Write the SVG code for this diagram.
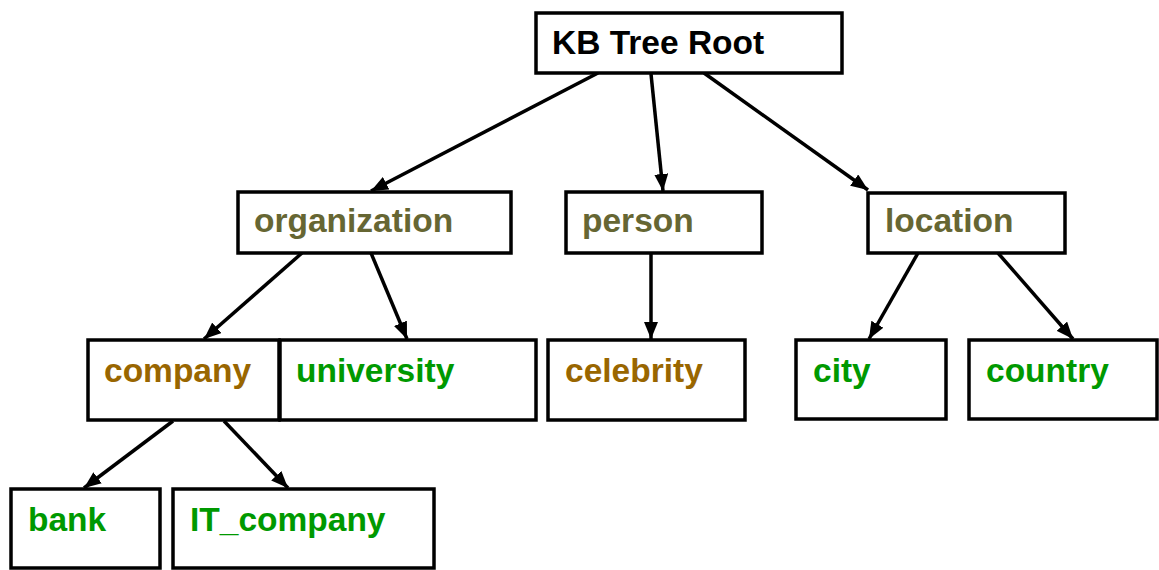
<svg xmlns="http://www.w3.org/2000/svg" width="1159" height="570" viewBox="0 0 1159 570">
<style>
.box{fill:#fff;stroke:#000;stroke-width:3.5}
.t{font-family:"Liberation Sans",Arial,sans-serif;font-weight:bold;font-size:33.5px}
.k{fill:#000}
.o{fill:#666633}
.b{fill:#996600}
.g{fill:#009900}
.e{stroke:#000;stroke-width:3.5;fill:none;marker-end:url(#ah)}
</style>
<defs>
<marker id="ah" markerUnits="userSpaceOnUse" markerWidth="18" markerHeight="14" refX="17" refY="7" orient="auto">
<path d="M0,0 L17,7 L0,14 z" fill="#000"/>
</marker>
</defs>
<rect width="1159" height="570" fill="#fff"/>
<g id="edges">
<line class="e" x1="598" y1="73" x2="371" y2="191"/>
<line class="e" x1="651" y1="74" x2="663" y2="191"/>
<line class="e" x1="704" y1="73" x2="868" y2="190"/>
<line class="e" x1="302" y1="253" x2="204" y2="339"/>
<line class="e" x1="371" y1="253" x2="407" y2="339"/>
<line class="e" x1="651" y1="253" x2="651" y2="339"/>
<line class="e" x1="918" y1="253" x2="869" y2="339"/>
<line class="e" x1="998" y1="253" x2="1073" y2="339"/>
<line class="e" x1="173" y1="421" x2="84" y2="488"/>
<line class="e" x1="224" y1="421" x2="288" y2="488"/>
</g>
<g id="root"><rect class="box" x="536" y="13" width="306" height="60"/><text class="t k" x="552" y="54">KB Tree Root</text></g>
<g id="organization"><rect class="box" x="238" y="192" width="273" height="61"/><text class="t o" x="254" y="232">organization</text></g>
<g id="person"><rect class="box" x="566" y="192" width="196" height="61"/><text class="t o" x="582" y="232">person</text></g>
<g id="location"><rect class="box" x="868" y="193" width="197" height="60"/><text class="t o" x="885" y="232">location</text></g>
<g id="company"><rect class="box" x="88" y="340" width="191" height="80"/><text class="t b" x="104" y="382">company</text></g>
<g id="university"><rect class="box" x="280" y="340" width="256" height="80"/><text class="t g" x="296" y="382">university</text></g>
<g id="celebrity"><rect class="box" x="548" y="340" width="197" height="80"/><text class="t b" x="565" y="382">celebrity</text></g>
<g id="city"><rect class="box" x="796" y="340" width="150" height="79"/><text class="t g" x="813" y="382">city</text></g>
<g id="country"><rect class="box" x="969" y="340" width="188" height="79"/><text class="t g" x="986" y="382">country</text></g>
<g id="bank"><rect class="box" x="11" y="489" width="149" height="79"/><text class="t g" x="28" y="531">bank</text></g>
<g id="IT_company"><rect class="box" x="173" y="489" width="261" height="79"/><text class="t g" x="190" y="531">IT_company</text></g>
</svg>
